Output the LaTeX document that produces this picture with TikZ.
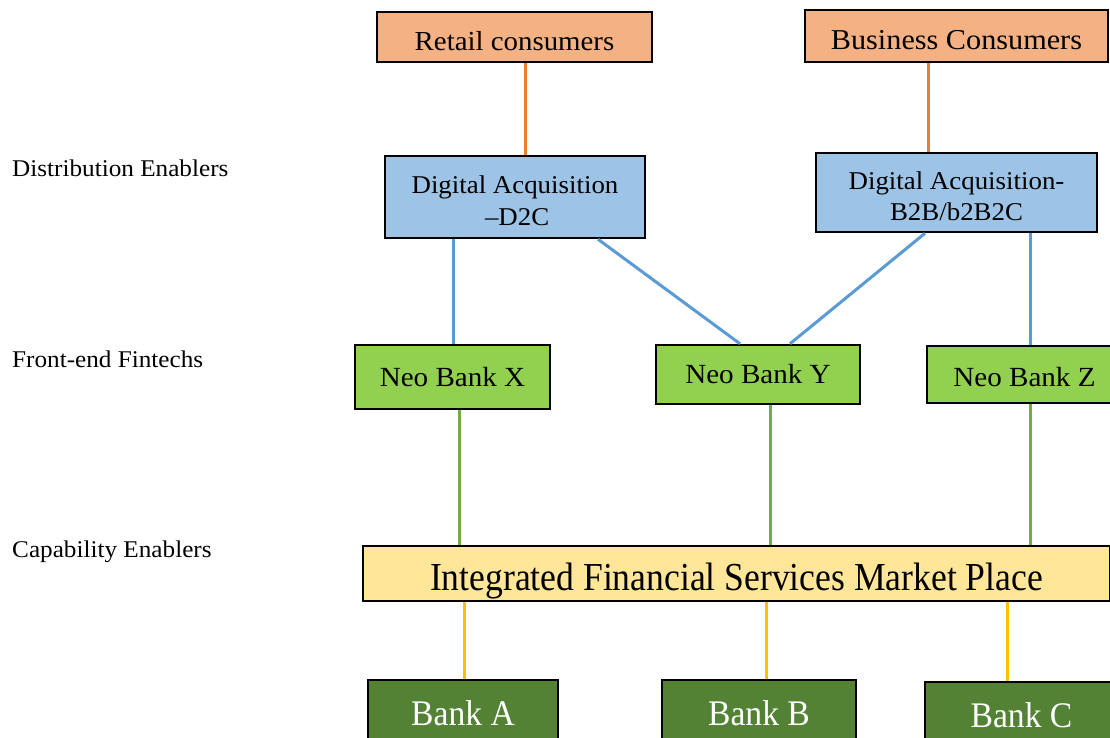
\documentclass[tikz,border=0pt]{standalone}
\usepackage{fontspec}
\usepackage{graphicx}
\setmainfont[FakeStretch=1.05]{Liberation Serif}
\definecolor{orfill}{HTML}{F4B183}
\definecolor{orline}{HTML}{ED7D31}
\definecolor{blfill}{HTML}{9DC3E6}
\definecolor{blline}{HTML}{5B9BD5}
\definecolor{grfill}{HTML}{92D050}
\definecolor{grline}{HTML}{70AD47}
\definecolor{yefill}{HTML}{FFE699}
\definecolor{yeline}{HTML}{FFC000}
\definecolor{dkgreen}{HTML}{548235}
\newcommand{\dn}[2]{\raisebox{-#1}[\height][\depth]{#2}}
\tikzset{
  box/.style={draw=black, line width=2.5pt, inner sep=0pt, align=center},
  consumer/.style={box, fill=orfill},
  acq/.style={box, fill=blfill},
  neo/.style={box, fill=grfill},
  market/.style={box, fill=yefill},
  bank/.style={box, fill=dkgreen, text=white},
  layer/.style={anchor=west, inner sep=0pt, font=\fontsize{24}{28}\selectfont},
  orconn/.style={draw=orline, line width=3pt},
  blconn/.style={draw=blline, line width=3pt},
  grconn/.style={draw=grline, line width=3pt},
  yeconn/.style={draw=yeline, line width=3pt}
}
\begin{document}
\begin{tikzpicture}[x=1pt,y=-1pt]
\useasboundingbox (0,0) rectangle (1110,738);
\clip (0,0) rectangle (1110,738);

% layer labels
\node[layer] (l1) at (12,168) {Distribution Enablers};
\node[layer] (l2) at (12,359) {Front-end Fintechs};
\node[layer] (l3) at (12,552) {Capability Enablers};

% consumers
\node[consumer, minimum width=275pt, minimum height=50pt, font=\fontsize{27.5}{31}\selectfont] (retail) at (514.5,37) {\dn{4pt}{Retail consumers}};
\node[consumer, minimum width=303pt, minimum height=52pt, font=\fontsize{28.8}{32}\selectfont] (business) at (956.5,36) {\dn{4pt}{Business Consumers}};

% acquisition
\node[acq, minimum width=260pt, minimum height=82pt, font=\fontsize{25.6}{33}\selectfont] (d2c) at (515,197) {\dn{3.5pt}{Digital Acquisition}\\[-1pt]\dn{3.5pt}{\,–D2C}};
\node[acq, minimum width=281pt, minimum height=79pt, font=\fontsize{25.6}{32}\selectfont] (b2b) at (956.5,192.5) {\dn{4pt}{Digital Acquisition-}\\[-1pt]\dn{4pt}{B2B/b2B2C}};

% neo banks
\node[neo, minimum width=195pt, minimum height=64pt, font=\fontsize{27.7}{31}\selectfont] (neox) at (452.5,377) {Neo Bank X};
\node[neo, minimum width=204pt, minimum height=59pt, font=\fontsize{27.7}{31}\selectfont] (neoy) at (758,374.5) {Neo Bank Y};
\node[neo, minimum width=195pt, minimum height=57pt, font=\fontsize{27.7}{31}\selectfont] (neoz) at (1024.5,374.5) {\dn{3pt}{Neo Bank Z}};

% market place
\node[market, minimum width=747pt, minimum height=55pt] (ifs) at (736.5,573.5) {};
\node[inner sep=0pt, font=\fontsize{33.9}{38}\selectfont] (ifst) at (736.5,581) {\scalebox{1}[1.17]{Integrated Financial Services Market Place}};

% banks
\node[bank, minimum width=190pt, minimum height=66pt, font=\fontsize{32}{36}\selectfont] (banka) at (463,713) {\scalebox{1}[1.125]{Bank A}};
\node[bank, minimum width=194pt, minimum height=66pt, font=\fontsize{32}{36}\selectfont] (bankb) at (759,713) {\scalebox{1}[1.125]{Bank B}};
\node[bank, minimum width=193pt, minimum height=64pt, font=\fontsize{32}{36}\selectfont] (bankc) at (1021.5,714) {\dn{1pt}{\scalebox{1}[1.125]{Bank C}}};

% connectors: consumers -> acquisition
\draw[orconn] ([xshift=10.5pt]retail.south) -- ([xshift=10.5pt]retail.south |- d2c.north);
\draw[orconn] ([xshift=-28.5pt]business.south) -- ([xshift=-28.5pt]business.south |- b2b.north);

% acquisition -> neo banks
\draw[blconn] ([xshift=-62pt]d2c.south) -- ([xshift=-62pt]d2c.south |- neox.north);
\draw[blconn] ([xshift=83pt]d2c.south) -- ([xshift=-18pt]neoy.north);
\draw[blconn] ([xshift=-31.5pt]b2b.south) -- ([xshift=32pt]neoy.north);
\draw[blconn] ([xshift=73.5pt]b2b.south) -- ([xshift=5.5pt]neoz.north);

% neo banks -> market place
\draw[grconn] ([xshift=6.5pt]neox.south) -- ([xshift=6.5pt]neox.south |- ifs.north);
\draw[grconn] ([xshift=12pt]neoy.south) -- ([xshift=12pt]neoy.south |- ifs.north);
\draw[grconn] ([xshift=5.5pt]neoz.south) -- ([xshift=5.5pt]neoz.south |- ifs.north);

% market place -> banks
\draw[yeconn] ([xshift=1pt]banka.north |- ifs.south) -- ([xshift=1pt]banka.north);
\draw[yeconn] ([xshift=7pt]bankb.north |- ifs.south) -- ([xshift=7pt]bankb.north);
\draw[yeconn] ([xshift=-14.5pt]bankc.north |- ifs.south) -- ([xshift=-14.5pt]bankc.north);
\end{tikzpicture}
\end{document}
